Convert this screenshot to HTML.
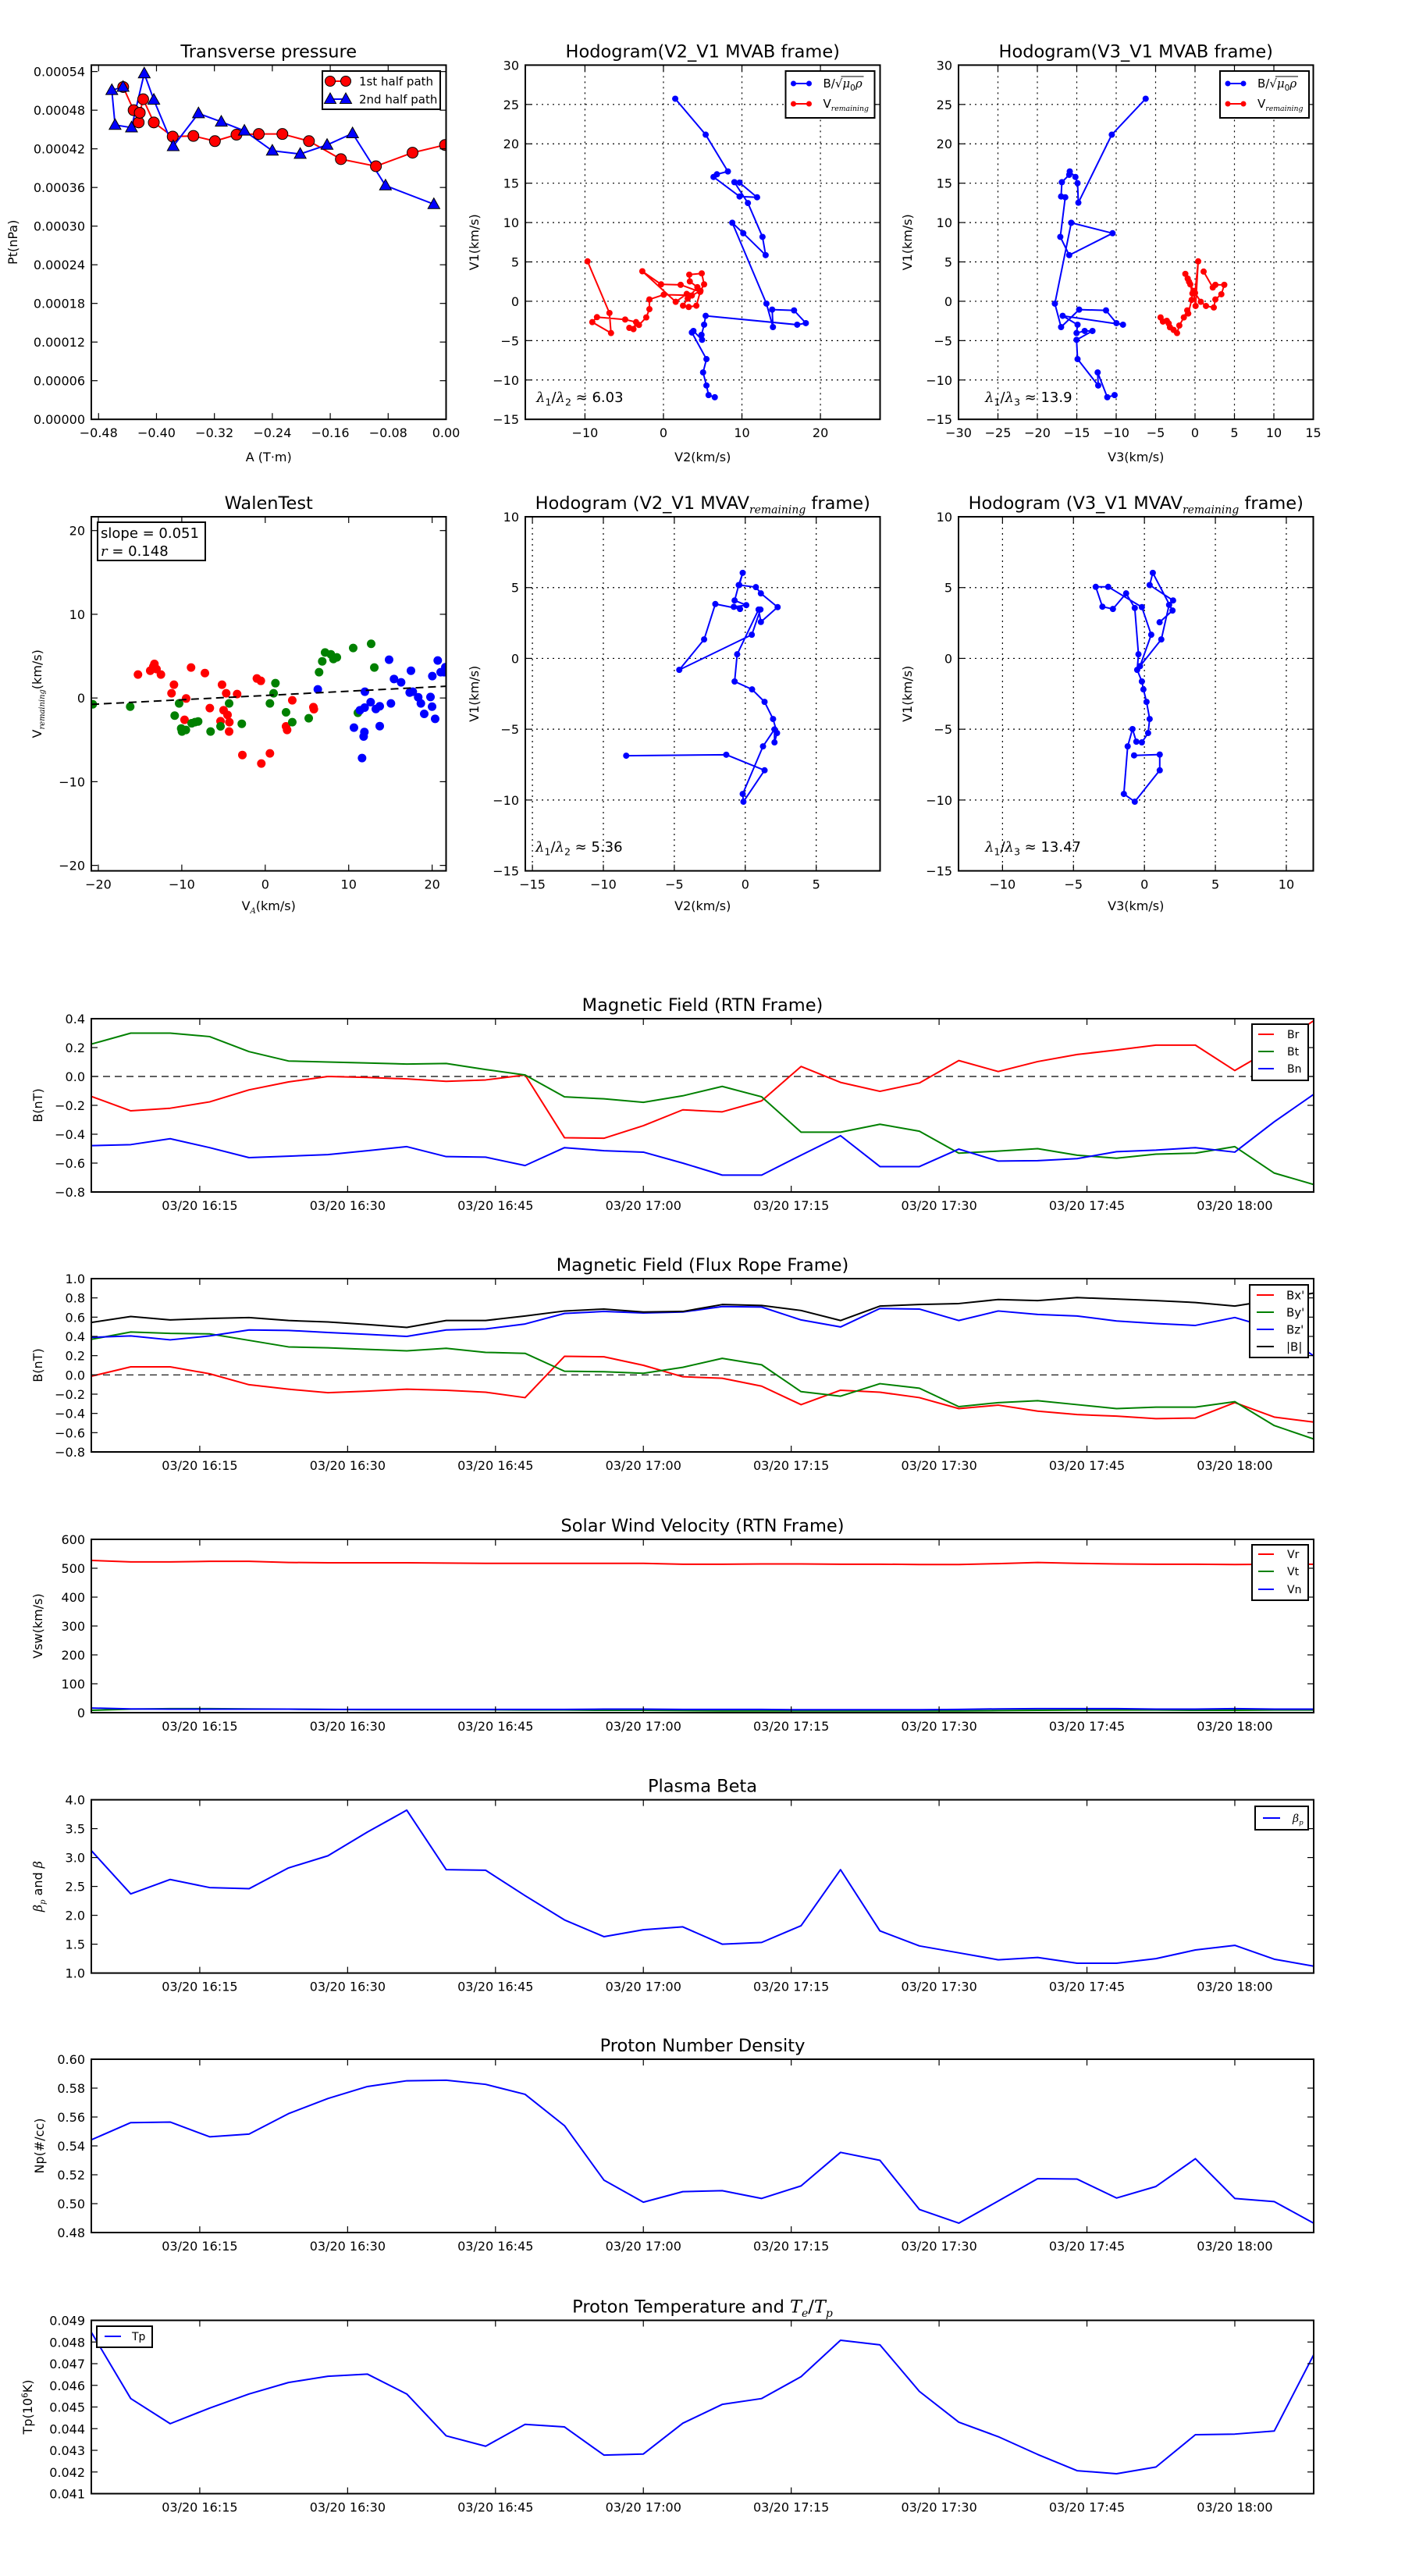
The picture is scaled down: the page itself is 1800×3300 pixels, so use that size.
<!DOCTYPE html>
<html><head><meta charset="utf-8"><title>Flux rope analysis</title>
<style>
html,body{margin:0;padding:0;background:#fff;}
svg{display:block;font-family:"DejaVu Sans","Liberation Sans",sans-serif;}
</style></head>
<body>
<svg id="fig" xmlns="http://www.w3.org/2000/svg" width="1800" height="3300" viewBox="0 0 1800 3300">
<rect x="0" y="0" width="1800" height="3300" fill="#fff"/>
</svg>
<script>
// ---------- DATA ----------
// Transverse pressure
const tpRedA = [-0.446,-0.4316,-0.4246,-0.4231,-0.4184,-0.4037,-0.3776,-0.349,-0.3193,-0.2895,-0.2587,-0.2261,-0.1894,-0.1453,-0.0969,-0.0463,-0.0015];
const tpRedP = [0.000516,0.00048,0.000461,0.000476,0.000497,0.000461,0.000439,0.00044,0.000432,0.000442,0.000443,0.000443,0.000432,0.000404,0.000393,0.000414,0.000426];
const tpBlueA = [-0.4462,-0.4617,-0.4572,-0.4345,-0.4169,-0.4037,-0.3769,-0.342,-0.3105,-0.2786,-0.24,-0.2015,-0.1644,-0.1292,-0.0837,-0.0169];
const tpBlueP = [0.000516,0.000511,0.000457,0.000453,0.000537,0.000496,0.000424,0.000475,0.000462,0.000448,0.000417,0.000412,0.000426,0.000444,0.000363,0.000334];
// Hodogram V2_V1 MVAB
const mvabBV2 = [1.5,5.38,8.21,6.81,6.38,9.7,11.93,9.7,9.04,10.76,12.62,13.02,10.17,8.77,13.12,13.95,13.85,16.64,18.14,17.04,5.38,5.18,4.85,4.92,3.82,3.62,5.48,5.05,5.48,5.75,6.54];
const mvabBV1 = [25.73,21.16,16.49,16.13,15.79,13.31,13.21,15.07,15.13,12.48,8.18,5.86,8.64,9.97,-0.3,-3.28,-1.06,-1.16,-2.78,-2.98,-1.85,-2.98,-4.27,-4.9,-3.77,-3.97,-7.35,-9.04,-10.7,-11.92,-12.19];
const mvabVV2 = [-9.67,-6.88,-6.68,-9.07,-8.47,-4.88,-3.49,-3.82,-4.35,-3.12,-2.19,-1.79,-1.79,0.03,3.19,3.62,4.72,5.18,4.88,3.29,3.36,4.32,3.09,2.49,3.22,4.19,4.68,2.19,-0.3,-2.69,1.56,2.96];
const mvabVV1 = [5.07,-1.49,-4.04,-2.65,-2.02,-2.32,-2.65,-3.54,-3.38,-3.01,-2.05,-1.0,0.23,0.83,0.76,0.73,1.32,2.15,3.54,3.38,2.52,1.79,0.33,-0.56,-0.73,-0.56,1.19,2.09,2.15,3.81,-0.07,0.93];
// Hodogram V3_V1 MVAB
const mvab3BV3 = [-6.26,-10.56,-14.8,-14.9,-15.17,-15.89,-15.96,-16.89,-16.99,-16.46,-17.09,-15.96,-10.46,-15.7,-17.78,-16.99,-14.7,-11.29,-9.97,-9.14,-16.79,-14.9,-15.03,-14.0,-13.01,-15.03,-14.9,-12.28,-12.35,-11.13,-10.2];
const mvab3BV1 = [25.73,21.16,12.52,15.0,15.79,16.49,16.06,15.13,13.31,13.21,8.18,5.86,8.64,9.97,-0.3,-3.28,-1.06,-1.16,-2.78,-2.98,-1.85,-2.98,-4.04,-3.77,-3.77,-4.9,-7.35,-10.7,-9.04,-12.19,-11.92];
const mvab3VV3 = [-4.37,-4.07,-3.58,-3.34,-3.18,-2.72,-2.28,-1.99,-1.42,-0.99,-0.86,-0.43,-0.33,-0.6,-0.93,-1.23,-0.76,-0.2,0.07,0.4,0.0,0.73,1.39,2.38,2.58,3.34,3.71,2.58,2.25,1.09];
const mvab3VV1 = [-2.05,-2.58,-2.48,-2.81,-3.31,-3.64,-4.04,-3.08,-2.05,-1.16,-1.56,0.17,0.99,2.15,2.88,3.48,2.48,1.32,-0.6,5.07,1.06,-0.07,-0.6,-0.79,0.23,0.89,2.09,2.09,1.75,3.77];
// Walen test
const walenRedX = [-15.25,-13.78,-13.28,-13.41,-13.03,-12.5,-10.94,-11.23,-9.48,-8.89,-7.23,-9.67,-6.64,-5.18,-4.68,-3.37,-4.99,-4.52,-5.36,-4.3,-4.33,-2.74,-0.47,0.56,-1.0,-0.53,3.24,5.77,5.83,2.49,2.62];
const walenRedY = [2.8,3.26,4.07,3.76,3.45,2.8,1.59,0.56,-0.06,3.64,2.98,-2.61,-1.21,1.59,0.56,0.47,-1.46,-2.02,-2.77,-2.89,-4.01,-6.81,-7.83,-6.62,2.33,2.05,-0.28,-1.09,-1.34,-3.39,-3.82];
const walenGreenX = [-20.67,-16.18,-10.85,-10.32,-10.07,-9.98,-9.51,-8.82,-8.42,-8.04,-6.55,-5.36,-4.33,-2.81,0.56,1.0,1.22,2.49,3.24,5.21,6.45,6.83,7.17,7.86,8.17,8.58,10.54,12.69,13.07,11.1];
const walenGreenY = [-0.75,-1.03,-2.11,-0.65,-3.64,-4.01,-3.82,-3.02,-2.89,-2.8,-4.01,-3.39,-0.65,-3.08,-0.65,0.56,1.77,-1.71,-2.89,-2.42,3.08,4.38,5.44,5.22,4.66,4.85,5.97,6.47,3.64,-1.77];
const walenBlueX = [6.3,10.63,11.6,11.79,11.88,11.35,11.91,11.94,12.63,13.25,13.72,13.72,14.84,15.06,15.43,16.28,17.46,17.31,17.68,18.33,18.65,19.05,19.8,19.99,20.36,20.02,20.67,21.02,21.42,21.58];
const walenBlueY = [1.03,-3.54,-7.18,-4.6,-4.07,-1.46,-1.15,0.75,-0.5,-1.31,-0.99,-3.36,4.57,-0.65,2.27,1.87,3.26,0.65,0.75,0.09,-0.65,-1.9,0.12,-1.03,-2.49,2.61,4.48,3.08,3.08,3.67];
const walenSlope = [0.051];
const walenIntercept = [0.3];
// Hodogram MVAV
const mvavV2 = [-8.39,-1.34,1.36,-0.13,-0.18,1.25,2.06,2.06,2.24,1.96,1.36,0.48,-0.75,-0.57,0.94,1.1,2.28,1.1,0.75,-0.42,-0.18,-0.46,-0.75,0.07,-0.81,-0.37,-2.11,-2.9,-4.65,0.46,1.07];
const mvavV1a = [-6.87,-6.8,-7.9,-10.12,-9.57,-6.21,-5.01,-5.93,-5.27,-4.28,-3.07,-2.19,-1.63,0.29,3.45,2.57,3.62,4.59,5.03,5.18,6.04,5.18,4.09,3.76,3.64,3.49,3.84,1.34,-0.81,1.67,3.45];
const mvavV3 = [-0.73,1.08,1.08,-0.68,-1.45,-1.18,-0.84,-0.57,-0.18,0.26,0.37,0.15,-0.07,-0.18,-0.51,-0.42,-0.68,-1.29,-2.22,-2.96,-3.43,-2.55,-0.18,0.48,-0.31,1.19,1.74,2.02,0.37,0.59,1.98,1.07];
const mvavV1b = [-6.85,-6.79,-7.9,-10.12,-9.57,-6.21,-4.99,-5.88,-5.93,-5.27,-4.28,-3.07,-2.19,-1.63,-0.81,0.29,3.56,4.59,3.49,3.65,5.05,5.05,3.62,1.67,-0.55,1.34,3.78,4.09,5.18,6.04,3.38,2.55];
// Time series (minutes after 16:04)
const tMin = [0,4,8,12,16,20,24,28,32,36,40,44,48,52,56,60,64,68,72,76,80,84,88,92,96,100,104,108,112,116,120,124];
const timeTickMin = [11,26,41,56,71,86,101,116];
const timeTickLabels = ['03/20 16:15','03/20 16:30','03/20 16:45','03/20 17:00','03/20 17:15','03/20 17:30','03/20 17:45','03/20 18:00'];
const br = [-0.138,-0.238,-0.22,-0.176,-0.093,-0.038,0.0,-0.007,-0.017,-0.034,-0.024,0.01,-0.424,-0.428,-0.341,-0.231,-0.245,-0.169,0.069,-0.041,-0.103,-0.045,0.11,0.034,0.103,0.152,0.183,0.217,0.217,0.041,0.2,0.386];
const bt = [0.224,0.3,0.3,0.276,0.172,0.107,0.1,0.093,0.086,0.09,0.048,0.01,-0.141,-0.155,-0.179,-0.134,-0.069,-0.141,-0.386,-0.386,-0.331,-0.379,-0.531,-0.517,-0.5,-0.545,-0.566,-0.538,-0.531,-0.486,-0.669,-0.748];
const bn = [-0.479,-0.472,-0.431,-0.493,-0.562,-0.552,-0.541,-0.514,-0.486,-0.555,-0.559,-0.617,-0.493,-0.514,-0.524,-0.6,-0.683,-0.683,-0.545,-0.41,-0.624,-0.624,-0.503,-0.586,-0.583,-0.569,-0.521,-0.51,-0.493,-0.524,-0.314,-0.124];
const bx = [-0.014,0.084,0.084,0.012,-0.102,-0.148,-0.185,-0.169,-0.148,-0.159,-0.18,-0.236,0.193,0.188,0.1,-0.019,-0.035,-0.117,-0.309,-0.159,-0.18,-0.236,-0.35,-0.314,-0.376,-0.412,-0.428,-0.454,-0.448,-0.288,-0.438,-0.49];
const by = [0.369,0.446,0.431,0.426,0.359,0.291,0.281,0.265,0.25,0.276,0.234,0.224,0.038,0.033,0.017,0.079,0.172,0.105,-0.174,-0.221,-0.091,-0.138,-0.33,-0.288,-0.268,-0.309,-0.35,-0.335,-0.335,-0.278,-0.526,-0.666];
const bz = [0.39,0.405,0.364,0.405,0.467,0.462,0.441,0.421,0.4,0.467,0.477,0.529,0.638,0.659,0.643,0.653,0.71,0.705,0.571,0.498,0.69,0.684,0.565,0.664,0.628,0.612,0.56,0.534,0.514,0.596,0.477,0.198];
const bmag = [0.545,0.607,0.571,0.586,0.596,0.565,0.55,0.524,0.493,0.565,0.565,0.612,0.664,0.684,0.653,0.659,0.731,0.721,0.669,0.565,0.715,0.731,0.741,0.783,0.772,0.803,0.788,0.772,0.752,0.715,0.78,0.85];
const vr = [527,522,522,524,524,520,519,519,519,518,517,517,517,517,517,514,514,515,515,514,514,513,513,516,520,517,515,514,514,513,514,514];
const vt = [8,12,14,14,13,12,11,10,10,10,10,9,9,8,8,7,6,6,6,6,6,6,6,7,8,9,9,9,8,8,9,9];
const vn = [16,13,12,12,12,12,11,11,11,11,11,11,11,12,12,11,11,11,10,10,10,10,11,13,14,14,14,12,12,14,12,12];
const betaP = [3.12,2.37,2.62,2.48,2.46,2.82,3.03,3.44,3.82,2.79,2.78,2.34,1.92,1.63,1.75,1.8,1.5,1.53,1.82,2.79,1.73,1.47,1.35,1.23,1.27,1.17,1.17,1.25,1.4,1.48,1.24,1.12];
const np = [0.5442,0.5561,0.5565,0.5463,0.5482,0.5623,0.5728,0.5811,0.5851,0.5855,0.5826,0.5757,0.554,0.5163,0.501,0.5083,0.509,0.5036,0.5123,0.5355,0.53,0.496,0.4865,0.5018,0.5173,0.517,0.5039,0.5119,0.5311,0.5036,0.5014,0.4865];
const tp = [0.04845,0.04539,0.04423,0.04495,0.0456,0.04613,0.04642,0.04652,0.0456,0.04367,0.04319,0.0442,0.04408,0.04278,0.04283,0.04425,0.04512,0.04539,0.0464,0.04808,0.04787,0.04572,0.0443,0.04363,0.04281,0.04206,0.04192,0.04223,0.04372,0.04375,0.04389,0.04741];

// ---------- HELPERS ----------
const NS = 'http://www.w3.org/2000/svg';
const svg = document.getElementById('fig');
function mk(tag, attrs, parent, name, inter) {
  const n = document.createElementNS(NS, tag);
  for (const k in attrs) n.setAttribute(k, attrs[k]);
  
  
  parent.appendChild(n);
  return n;
}
function txt(str, attrs, parent, name) {
  const t = mk('text', attrs, parent, name, false);
  t.textContent = str;
  return t;
}
// parts: [string, attrs, verticalOffsetEm(+down)]
function rich(parent, attrs, parts, name) {
  const t = mk('text', attrs, parent, name, false);
  const fs = parseFloat(attrs['font-size']) || 16;
  let cur = 0;
  parts.forEach(p => {
    const s = document.createElementNS(NS, 'tspan');
    for (const k in (p[1] || {})) s.setAttribute(k, p[1][k]);
    const off = p[2] || 0;
    if (off !== cur) { s.setAttribute('dy', ((off - cur) * fs).toFixed(2)); cur = off; }
    s.textContent = p[0];
    t.appendChild(s);
  });
  return t;
}
function mfmt(v, d) { return v.toFixed(d).replace('-', '\u2212'); }

function axes(c) {
  const g = mk('g', {}, svg, c.name, false);
  const sx = v => c.x + (v - c.xmin) / (c.xmax - c.xmin) * c.w;
  const sy = v => c.y + c.h - (v - c.ymin) / (c.ymax - c.ymin) * c.h;
  const cid = 'clip-' + c.name;
  const cp = mk('clipPath', {id: cid}, g, c.name + '-clip', false);
  mk('rect', {x: c.x, y: c.y, width: c.w, height: c.h}, cp, c.name + '-clip-rect', false);
  if (c.grid) {
    c.xticks.forEach(v => { const X = sx(v); mk('line', {x1: X, y1: c.y, x2: X, y2: c.y + c.h, stroke: '#000', 'stroke-width': 1.2, 'stroke-dasharray': '2,5'}, g, 'x-grid-line', false); });
    c.yticks.forEach(v => { const Y = sy(v); mk('line', {x1: c.x, y1: Y, x2: c.x + c.w, y2: Y, stroke: '#000', 'stroke-width': 1.2, 'stroke-dasharray': '2,5'}, g, 'y-grid-line', false); });
  }
  const data = mk('g', {'clip-path': 'url(#' + cid + ')'}, g, c.name + '-data', false);
  c.xticks.forEach((v, i) => {
    const X = sx(v);
    mk('line', {x1: X, y1: c.y + c.h, x2: X, y2: c.y + c.h - 8, stroke: '#000', 'stroke-width': 1.2}, g, 'x-tick', false);
    mk('line', {x1: X, y1: c.y, x2: X, y2: c.y + 8, stroke: '#000', 'stroke-width': 1.2}, g, 'x-tick', false);
    const lab = c.xlabels ? c.xlabels[i] : mfmt(v, c.xdec || 0);
    txt(lab, {x: X, y: c.y + c.h + 23, 'font-size': 16, 'text-anchor': 'middle'}, g, 'x-tick-label');
  });
  c.yticks.forEach(v => {
    const Y = sy(v);
    mk('line', {x1: c.x, y1: Y, x2: c.x + 8, y2: Y, stroke: '#000', 'stroke-width': 1.2}, g, 'y-tick', false);
    mk('line', {x1: c.x + c.w, y1: Y, x2: c.x + c.w - 8, y2: Y, stroke: '#000', 'stroke-width': 1.2}, g, 'y-tick', false);
    txt(mfmt(v, c.ydec || 0), {x: c.x - 8, y: Y + 6, 'font-size': 16, 'text-anchor': 'end'}, g, 'y-tick-label');
  });
  mk('rect', {x: c.x, y: c.y, width: c.w, height: c.h, fill: 'none', stroke: '#000', 'stroke-width': 2}, g, c.name + '-frame', false);
  if (c.title) rich(g, {x: c.x + c.w / 2, y: c.y - 10, 'font-size': 22.5, 'text-anchor': 'middle'}, c.title, 'chart-title');
  if (c.xlabel) rich(g, {x: c.x + c.w / 2, y: c.xlabelY, 'font-size': 16, 'text-anchor': 'middle'}, c.xlabel, 'x-axis-title');
  if (c.ylabel) rich(g, {x: c.ylabelX, y: c.y + c.h / 2, 'font-size': 16, 'text-anchor': 'middle', transform: 'rotate(-90 ' + c.ylabelX + ' ' + (c.y + c.h / 2) + ')'}, c.ylabel, 'y-axis-title');
  return {sx, sy, data, g, c};
}
function line(ax, xs, ys, color, name, w) {
  let d = '';
  xs.forEach((x, i) => { d += (i ? 'L' : 'M') + ax.sx(x).toFixed(2) + ',' + ax.sy(ys[i]).toFixed(2); });
  return mk('path', {d: d, fill: 'none', stroke: color, 'stroke-width': w || 2, 'stroke-linejoin': 'round'}, ax.data, name, false);
}
function dots(ax, xs, ys, color, r, name, stroke) {
  xs.forEach((x, i) => {
    const a = {cx: ax.sx(x).toFixed(2), cy: ax.sy(ys[i]).toFixed(2), r: r, fill: color};
    if (stroke) { a.stroke = '#000'; a['stroke-width'] = 1; }
    mk('circle', a, ax.data, name, false);
  });
}
function tris(ax, xs, ys, color, s, name) {
  xs.forEach((x, i) => {
    const X = ax.sx(x), Y = ax.sy(ys[i]);
    mk('polygon', {points: X + ',' + (Y - s) + ' ' + (X - s * 0.95) + ',' + (Y + s * 0.7) + ' ' + (X + s * 0.95) + ',' + (Y + s * 0.7), fill: color, stroke: '#000', 'stroke-width': 1}, ax.data, name, false);
  });
}
function legendBox(parent, x, y, w, h, name) {
  const g = mk('g', {}, parent, name, false);
  mk('rect', {x: x, y: y, width: w, height: h, fill: '#fff', stroke: '#000', 'stroke-width': 2}, g, 'legend-frame', false);
  return g;
}
function legEntry(g, x1, x2, y, color, tx, label, fs, name) {
  mk('line', {x1: x1, y1: y, x2: x2, y2: y, stroke: color, 'stroke-width': 2}, g, name + '-swatch', false);
  return rich(g, {x: tx, y: y + fs * 0.36, 'font-size': fs}, label, name + '-label');
}
const sub = (s) => [s, {'font-size': '70%'}, 0.25];
const subI = (s) => [s, {'font-size': '62%', 'font-style': 'italic', 'font-family': 'DejaVu Serif, serif'}, 0.25];
const it = (s) => [s, {'font-style': 'italic', 'font-family': 'DejaVu Serif, serif'}, 0];
const sup = (s) => [s, {'font-size': '65%'}, -0.35];

// ---------- ROW 1 ----------
const R1Y = 83.4, R1H = 453.8, R2Y = 662, R2H = 453.6;
const C1X = 117, C2X = 673, C3X = 1228, CW = 454.5;

const axTP = axes({name: 'transverse-pressure-chart', x: C1X, y: R1Y, w: CW, h: R1H, xmin: -0.49, xmax: 0.0, ymin: 0, ymax: 0.00055,
  xticks: [-0.48,-0.40,-0.32,-0.24,-0.16,-0.08,0.0], xdec: 2, yticks: [0,0.00006,0.00012,0.00018,0.00024,0.0003,0.00036,0.00042,0.00048,0.00054], ydec: 5,
  title: [['Transverse pressure']], xlabel: [['A (T\u00b7m)']], xlabelY: 591, ylabel: [['Pt(nPa)']], ylabelX: 22});
line(axTP, tpRedA, tpRedP, '#ff0000', 'first-half-path-line');
line(axTP, tpBlueA, tpBlueP, '#0000ff', 'second-half-path-line');
dots(axTP, tpRedA, tpRedP, '#ff0000', 7, 'first-half-point', true);
tris(axTP, tpBlueA, tpBlueP, '#0000ff', 8, 'second-half-point');
(function(){
  const g = legendBox(axTP.g, 413, 91, 151, 49, 'pressure-legend');
  mk('line', {x1: 423, y1: 104, x2: 443, y2: 104, stroke: '#ff0000', 'stroke-width': 2}, g, 'legend-red-line', false);
  mk('circle', {cx: 423, cy: 104, r: 6.5, fill: '#ff0000', stroke: '#000', 'stroke-width': 1}, g, 'legend-red-marker', false);
  mk('circle', {cx: 443, cy: 104, r: 6.5, fill: '#ff0000', stroke: '#000', 'stroke-width': 1}, g, 'legend-red-marker', false);
  txt('1st half path', {x: 460, y: 109.5, 'font-size': 15}, g, 'legend-first-half');
  mk('line', {x1: 423, y1: 127, x2: 443, y2: 127, stroke: '#0000ff', 'stroke-width': 2}, g, 'legend-blue-line', false);
  mk('polygon', {points: '423,119 415.5,132.5 430.5,132.5', fill: '#0000ff', stroke: '#000', 'stroke-width': 1}, g, 'legend-blue-marker', false);
  mk('polygon', {points: '443,119 435.5,132.5 450.5,132.5', fill: '#0000ff', stroke: '#000', 'stroke-width': 1}, g, 'legend-blue-marker', false);
  txt('2nd half path', {x: 460, y: 132.5, 'font-size': 15}, g, 'legend-second-half');
})();

function hodoLegend(ax, bx, by) {
  const g = legendBox(ax.g, bx, by, 114, 60, 'hodogram-legend');
  mk('line', {x1: bx + 10, y1: by + 16, x2: bx + 30, y2: by + 16, stroke: '#0000ff', 'stroke-width': 2}, g, 'legend-b-line', false);
  mk('circle', {cx: bx + 10, cy: by + 16, r: 3.5, fill: '#0000ff'}, g, 'legend-b-marker', false);
  mk('circle', {cx: bx + 30, cy: by + 16, r: 3.5, fill: '#0000ff'}, g, 'legend-b-marker', false);
  rich(g, {x: bx + 48, y: by + 21, 'font-size': 15}, [['B/\u221a'], it('\u03bc'), sub('0'), it('\u03c1')], 'legend-b-label');
  mk('line', {x1: bx + 71, y1: by + 7, x2: bx + 100, y2: by + 7, stroke: '#000', 'stroke-width': 1}, g, 'legend-sqrt-bar', false);
  mk('line', {x1: bx + 10, y1: by + 42, x2: bx + 30, y2: by + 42, stroke: '#ff0000', 'stroke-width': 2}, g, 'legend-v-line', false);
  mk('circle', {cx: bx + 10, cy: by + 42, r: 3.5, fill: '#ff0000'}, g, 'legend-v-marker', false);
  mk('circle', {cx: bx + 30, cy: by + 42, r: 3.5, fill: '#ff0000'}, g, 'legend-v-marker', false);
  rich(g, {x: bx + 48, y: by + 47, 'font-size': 15}, [['V'], subI('remaining')], 'legend-v-label');
}
function lambdaText(ax, x, y, a, b, val) {
  rich(ax.g, {x: x, y: y, 'font-size': 18}, [it('\u03bb'), sub('1'), ['/', {}, 0], it('\u03bb'), sub(b), [' \u2248 ' + val, {}, 0]], 'eigenvalue-ratio');
}

const axH1 = axes({name: 'hodogram-v2-v1-mvab', x: C2X, y: R1Y, w: CW, h: R1H, xmin: -17.6, xmax: 27.6, ymin: -15, ymax: 30,
  xticks: [-10,0,10,20], yticks: [-15,-10,-5,0,5,10,15,20,25,30], grid: true,
  title: [['Hodogram(V2_V1 MVAB frame)']], xlabel: [['V2(km/s)']], xlabelY: 591, ylabel: [['V1(km/s)']], ylabelX: 613});
line(axH1, mvabBV2, mvabBV1, '#0000ff', 'b-field-path');
dots(axH1, mvabBV2, mvabBV1, '#0000ff', 4, 'b-field-point');
line(axH1, mvabVV2, mvabVV1, '#ff0000', 'velocity-path');
dots(axH1, mvabVV2, mvabVV1, '#ff0000', 4, 'velocity-point');
hodoLegend(axH1, 1006.5, 91);
lambdaText(axH1, 687, 515, '1', '2', '6.03');

const axH2 = axes({name: 'hodogram-v3-v1-mvab', x: C3X, y: R1Y, w: CW, h: R1H, xmin: -30, xmax: 15, ymin: -15, ymax: 30,
  xticks: [-30,-25,-20,-15,-10,-5,0,5,10,15], yticks: [-15,-10,-5,0,5,10,15,20,25,30], grid: true,
  title: [['Hodogram(V3_V1 MVAB frame)']], xlabel: [['V3(km/s)']], xlabelY: 591, ylabel: [['V1(km/s)']], ylabelX: 1168});
line(axH2, mvab3BV3, mvab3BV1, '#0000ff', 'b-field-path');
dots(axH2, mvab3BV3, mvab3BV1, '#0000ff', 4, 'b-field-point');
line(axH2, mvab3VV3, mvab3VV1, '#ff0000', 'velocity-path');
dots(axH2, mvab3VV3, mvab3VV1, '#ff0000', 4, 'velocity-point');
hodoLegend(axH2, 1563, 91);
lambdaText(axH2, 1262, 515, '1', '3', '13.9');

// ---------- ROW 2 ----------
const axW = axes({name: 'walen-test-chart', x: C1X, y: R2Y, w: CW, h: R2H, xmin: -20.84, xmax: 21.67, ymin: -20.65, ymax: 21.65,
  xticks: [-20,-10,0,10,20], yticks: [-20,-10,0,10,20],
  title: [['WalenTest']], xlabel: [['V'], subI('A'), ['(km/s)', {}, 0]], xlabelY: 1166, ylabel: [['V'], subI('remaining'), ['(km/s)', {}, 0]], ylabelX: 53});
dots(axW, walenRedX, walenRedY, '#ff0000', 5.5, 'walen-red-point');
dots(axW, walenGreenX, walenGreenY, '#008000', 5.5, 'walen-green-point');
dots(axW, walenBlueX, walenBlueY, '#0000ff', 5.5, 'walen-blue-point');
(function(){
  const x0 = -20.84, x1 = 21.67;
  mk('line', {x1: axW.sx(x0), y1: axW.sy(walenIntercept[0] + walenSlope[0] * x0), x2: axW.sx(x1), y2: axW.sy(walenIntercept[0] + walenSlope[0] * x1), stroke: '#000', 'stroke-width': 2, 'stroke-dasharray': '10,6'}, axW.data, 'walen-fit-line', false);
  const g = legendBox(axW.g, 125, 669, 138, 49, 'walen-stats-box');
  txt('slope = 0.051', {x: 129, y: 689, 'font-size': 18}, g, 'walen-slope-text');
  rich(g, {x: 129, y: 712, 'font-size': 18}, [it('r'), [' = 0.148']], 'walen-r-text');
})();

const axH3 = axes({name: 'hodogram-v2-v1-mvav', x: C2X, y: R2Y, w: CW, h: R2H, xmin: -15.5, xmax: 9.5, ymin: -15, ymax: 10,
  xticks: [-15,-10,-5,0,5], yticks: [-15,-10,-5,0,5,10], grid: true,
  title: [['Hodogram (V2_V1 MVAV'], subI('remaining'), [' frame)', {}, 0]], xlabel: [['V2(km/s)']], xlabelY: 1166, ylabel: [['V1(km/s)']], ylabelX: 613});
line(axH3, mvavV2, mvavV1a, '#0000ff', 'mvav-path');
dots(axH3, mvavV2, mvavV1a, '#0000ff', 4, 'mvav-point');
lambdaText(axH3, 686, 1091, '1', '2', '5.36');

const axH4 = axes({name: 'hodogram-v3-v1-mvav', x: C3X, y: R2Y, w: CW, h: R2H, xmin: -13.1, xmax: 11.9, ymin: -15, ymax: 10,
  xticks: [-10,-5,0,5,10], yticks: [-15,-10,-5,0,5,10], grid: true,
  title: [['Hodogram (V3_V1 MVAV'], subI('remaining'), [' frame)', {}, 0]], xlabel: [['V3(km/s)']], xlabelY: 1166, ylabel: [['V1(km/s)']], ylabelX: 1168});
line(axH4, mvavV3, mvavV1b, '#0000ff', 'mvav-path');
dots(axH4, mvavV3, mvavV1b, '#0000ff', 4, 'mvav-point');
lambdaText(axH4, 1262, 1091, '1', '3', '13.47');

// ---------- TIME SERIES ----------
const TX = 117, TW = 1566, TH = 222;
function tAxes(name, y, ymin, ymax, yticks, ydec, title, ylabel, ylx) {
  return axes({name: name, x: TX, y: y, w: TW, h: TH, xmin: 0, xmax: 124, ymin: ymin, ymax: ymax,
    xticks: timeTickMin, xlabels: timeTickLabels, yticks: yticks, ydec: ydec, title: title, ylabel: ylabel, ylabelX: ylx});
}
function zeroLine(ax) {
  mk('line', {x1: TX, y1: ax.sy(0), x2: TX + TW, y2: ax.sy(0), stroke: '#000', 'stroke-width': 1.2, 'stroke-dasharray': '9,6'}, ax.data, 'zero-reference-line', false);
}

const axRTN = tAxes('magnetic-field-rtn-chart', 1305, -0.8, 0.4, [-0.8,-0.6,-0.4,-0.2,0.0,0.2,0.4], 1, [['Magnetic Field (RTN Frame)']], [['B(nT)']], 54);
zeroLine(axRTN);
line(axRTN, tMin, br, '#ff0000', 'br-line');
line(axRTN, tMin, bt, '#008000', 'bt-line');
line(axRTN, tMin, bn, '#0000ff', 'bn-line');
(function(){
  const g = legendBox(axRTN.g, 1604, 1312, 72, 72, 'rtn-legend');
  legEntry(g, 1612, 1632, 1325, '#ff0000', 1649, [['Br']], 14, 'legend-br');
  legEntry(g, 1612, 1632, 1347, '#008000', 1649, [['Bt']], 14, 'legend-bt');
  legEntry(g, 1612, 1632, 1369, '#0000ff', 1649, [['Bn']], 14, 'legend-bn');
})();

const axFR = tAxes('magnetic-field-flux-rope-chart', 1638, -0.8, 1.0, [-0.8,-0.6,-0.4,-0.2,0.0,0.2,0.4,0.6,0.8,1.0], 1, [['Magnetic Field (Flux Rope Frame)']], [['B(nT)']], 54);
zeroLine(axFR);
line(axFR, tMin, bx, '#ff0000', 'bx-line');
line(axFR, tMin, by, '#008000', 'by-line');
line(axFR, tMin, bz, '#0000ff', 'bz-line');
line(axFR, tMin, bmag, '#000000', 'bmag-line');
(function(){
  const g = legendBox(axFR.g, 1601, 1646, 75, 93, 'flux-rope-legend');
  legEntry(g, 1610, 1632, 1659, '#ff0000', 1648, [["Bx'"]], 15, 'legend-bx');
  legEntry(g, 1610, 1632, 1681, '#008000', 1648, [["By'"]], 15, 'legend-by');
  legEntry(g, 1610, 1632, 1703, '#0000ff', 1648, [["Bz'"]], 15, 'legend-bz');
  legEntry(g, 1610, 1632, 1725, '#000000', 1648, [['|B|']], 15, 'legend-bmag');
})();

const axSW = tAxes('solar-wind-velocity-chart', 1972, 0, 600, [0,100,200,300,400,500,600], 0, [['Solar Wind Velocity (RTN Frame)']], [['Vsw(km/s)']], 54);
line(axSW, tMin, vr, '#ff0000', 'vr-line');
line(axSW, tMin, vt, '#008000', 'vt-line');
line(axSW, tMin, vn, '#0000ff', 'vn-line');
(function(){
  const g = legendBox(axSW.g, 1604, 1979, 72, 71, 'velocity-legend');
  legEntry(g, 1612, 1632, 1991, '#ff0000', 1649, [['Vr']], 14, 'legend-vr');
  legEntry(g, 1612, 1632, 2013, '#008000', 1649, [['Vt']], 14, 'legend-vt');
  legEntry(g, 1612, 1632, 2036, '#0000ff', 1649, [['Vn']], 14, 'legend-vn');
})();

const axBeta = tAxes('plasma-beta-chart', 2305.6, 1.0, 4.0, [1.0,1.5,2.0,2.5,3.0,3.5,4.0], 1, [['Plasma Beta']], [it('\u03b2'), subI('p'), [' and ', {}, 0], it('\u03b2')], 54);
line(axBeta, tMin, betaP, '#0000ff', 'beta-p-line');
(function(){
  const g = legendBox(axBeta.g, 1608, 2314, 68, 30, 'beta-legend');
  legEntry(g, 1618, 1640, 2329, '#0000ff', 1656, [it('\u03b2'), subI('p')], 14, 'legend-beta-p');
})();

const axNp = tAxes('proton-density-chart', 2638, 0.48, 0.60, [0.48,0.50,0.52,0.54,0.56,0.58,0.60], 2, [['Proton Number Density']], [['Np(#/cc)']], 56);
line(axNp, tMin, np, '#0000ff', 'np-line');

const axTp = tAxes('proton-temperature-chart', 2972.5, 0.041, 0.049, [0.041,0.042,0.043,0.044,0.045,0.046,0.047,0.048,0.049], 3, [['Proton Temperature and '], it('T'), subI('e'), ['/', {}, 0], it('T'), subI('p')], [['Tp(10'], sup('6'), ['K)', {}, 0]], 41);
line(axTp, tMin, tp, '#0000ff', 'tp-line');
(function(){
  const g = legendBox(axTp.g, 124, 2980, 71, 27, 'temperature-legend');
  legEntry(g, 134, 155, 2993, '#0000ff', 169, [['Tp']], 14, 'legend-tp');
})();
</script>
</body></html>
